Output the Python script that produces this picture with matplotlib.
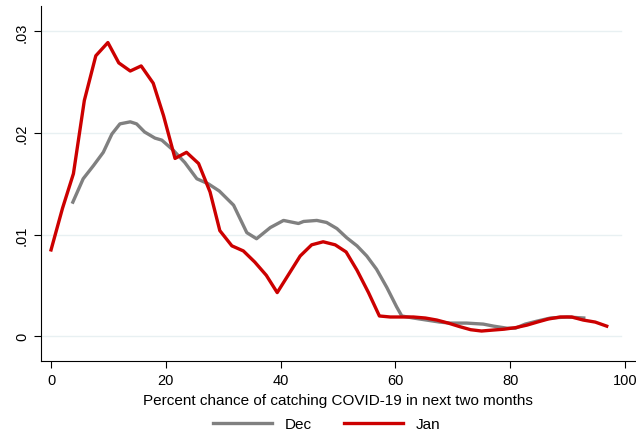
import matplotlib
matplotlib.use("Agg")
import matplotlib.pyplot as plt

# Jan (red) curve
jan_x = [0, 2, 3.9, 5.8, 7.8, 9.9, 11.8, 13.8, 15.7, 17.8, 19.6, 21.6, 23.6, 25.7, 27.7,
         29.4, 31.5, 33.5, 35.5, 37.5, 39.4, 41.4, 43.4, 45.4, 47.4, 49.5, 51.4, 53.3,
         55.3, 57.2, 59.1, 61.1, 63.1, 65.2, 67.2, 69.2, 71.2, 73.1, 75.0, 77.1, 78.9,
         80.9, 82.9, 84.7, 86.6, 88.7, 90.7, 92.7, 94.8, 96.8]
jan_y = [0.0085, 0.0126, 0.0160, 0.0232, 0.0276, 0.0289, 0.0269, 0.0261, 0.0266, 0.0249,
         0.0217, 0.0175, 0.0181, 0.0170, 0.0142, 0.0104, 0.0089, 0.0084, 0.0073, 0.0060,
         0.0043, 0.0061, 0.0079, 0.0090, 0.0093, 0.0090, 0.0083, 0.0065, 0.0043, 0.0020,
         0.0019, 0.0019, 0.0019, 0.0018, 0.0016, 0.0013, 0.00095, 0.00065, 0.00052,
         0.00062, 0.0007, 0.00085, 0.0011, 0.0014, 0.0017, 0.0019, 0.0019, 0.0016,
         0.0014, 0.0010]

# Dec (gray) curve
dec_x = [3.8, 5.6, 7.4, 9.1, 10.6, 12.0, 13.8, 14.9, 16.3, 18.1, 19.3, 21.3, 23.3, 25.4,
         27.4, 29.3, 31.8, 34.1, 35.8, 38.2, 40.5, 43.1, 44.0, 46.3, 48.0, 49.8, 51.5,
         53.3, 55.0, 56.7, 58.5, 60.2, 61.1, 63.1, 65.4, 67.7, 69.5, 72.4, 75.3, 77.1,
         79.4, 80.9, 82.6, 84.7, 87.0, 89.9, 92.8]
dec_y = [0.0132, 0.0155, 0.0168, 0.0181, 0.0199, 0.0209, 0.0211, 0.0209, 0.0201, 0.0195,
         0.0193, 0.0183, 0.0171, 0.0155, 0.0150, 0.0143, 0.0129, 0.0102, 0.0096, 0.0107,
         0.0114, 0.0111, 0.0113, 0.0114, 0.0112, 0.0106, 0.0097, 0.0089, 0.0079, 0.0066,
         0.0048, 0.0029, 0.0020, 0.0018, 0.0016, 0.0014, 0.0013, 0.0013, 0.0012, 0.0010,
         0.0008, 0.0008, 0.0012, 0.0015, 0.0018, 0.0019, 0.0018]

x_ticks = [0, 20, 40, 60, 80, 100]
y_ticks = [0, 0.01, 0.02, 0.03]
y_labels = ["0", ".01", ".02", ".03"]

plt.rcParams['font.family'] = ['Liberation Sans', 'DejaVu Sans']

fig = plt.figure(figsize=(6.36, 4.35), dpi=100)
ax = fig.add_axes([0.064, 0.1685, 0.936, 0.8155])

for yv in y_ticks:
    ax.axhline(yv, color="#e8f0f2", lw=1.0, zorder=0, xmax=0.975)

ax.plot(dec_x, dec_y, color="#808080", lw=2.4, label="Dec", solid_joinstyle="round")
ax.plot(jan_x, jan_y, color="#cc0000", lw=2.4, label="Jan", solid_joinstyle="round")

ax.set_xlim(-1.8, 101.9)
ax.set_ylim(-0.0024, 0.0325)
ax.set_xticks(x_ticks)
ax.set_yticks(y_ticks)
ax.set_yticklabels(y_labels, rotation=90, va="center")
ax.tick_params(axis="both", labelsize=10.5, length=5, width=0.8, direction="out")
ax.tick_params(axis="x", pad=4)
ax.spines["top"].set_visible(False)
ax.spines["right"].set_visible(False)
ax.set_xlabel("Percent chance of catching COVID-19 in next two months", fontsize=11, labelpad=4)

fig.legend(loc="center", bbox_to_anchor=(0.513, 0.022), ncol=2, frameon=False,
           fontsize=11, handlelength=3.9, handletextpad=0.8, columnspacing=2.1,
           borderpad=0.1)

fig.savefig("out.png", dpi=100)
